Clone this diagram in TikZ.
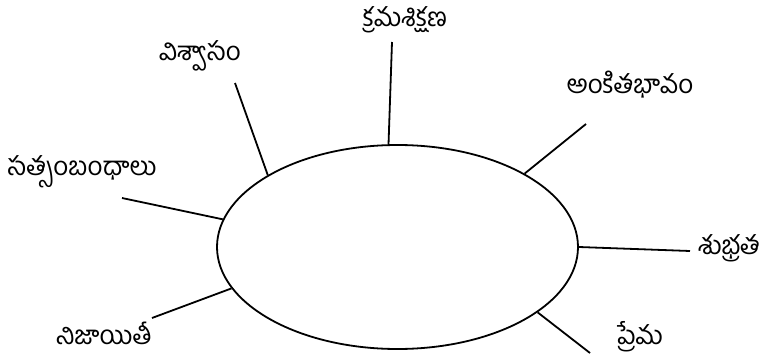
\documentclass[tikz,border=0pt]{standalone}
\usepackage{fontspec}
\newfontfamily\telugu[Script=Telugu]{Hind Guntur}
\usetikzlibrary{shapes.geometric}
\begin{document}
\begin{tikzpicture}[x=1pt,y=-1pt,
  spoke/.style={line width=1.8pt},
  lbl/.style={font=\telugu\fontsize{26}{30}\selectfont, inner sep=0pt}]
\useasboundingbox (0,0) rectangle (769,364);
\node[ellipse, draw, line width=1.8pt, minimum width=361pt, minimum height=204pt, inner sep=0pt] (e) at (397.5,247) {};
\coordinate (c1) at (392,42);
\coordinate (c2) at (235,83);
\coordinate (c3) at (586,124);
\coordinate (c4) at (122,198);
\coordinate (c5) at (690,251);
\coordinate (c6) at (152,318);
\coordinate (c7) at (590,353);
\draw[spoke] (e.95.9) -- (c1);
\draw[spoke] (e.151.6) -- (c2);
\draw[spoke] (e.30.1) -- (c3);
\draw[spoke] (e.171.6) -- (c4);
\draw[spoke] (e.0) -- (c5);
\draw[spoke] (e.194.9) -- (c6);
\draw[spoke] (e.335.5) -- (c7);
\node[lbl] (t1) at (405,20) {క్రమశిక్షణ};
\node[lbl] (t2) at (200,56) {విశ్వాసం};
\node[lbl] (t3) at (630,85) {అంకితభావం};
\node[lbl] (t4) at (82,172) {సత్సంబంధాలు};
\node[lbl] (t5) at (729,248) {శుభ్రత};
\node[lbl] (t6) at (104,333) {నిజాయితీ};
\node[lbl] (t7) at (640,337) {ప్రేమ};
\end{tikzpicture}
\end{document}
